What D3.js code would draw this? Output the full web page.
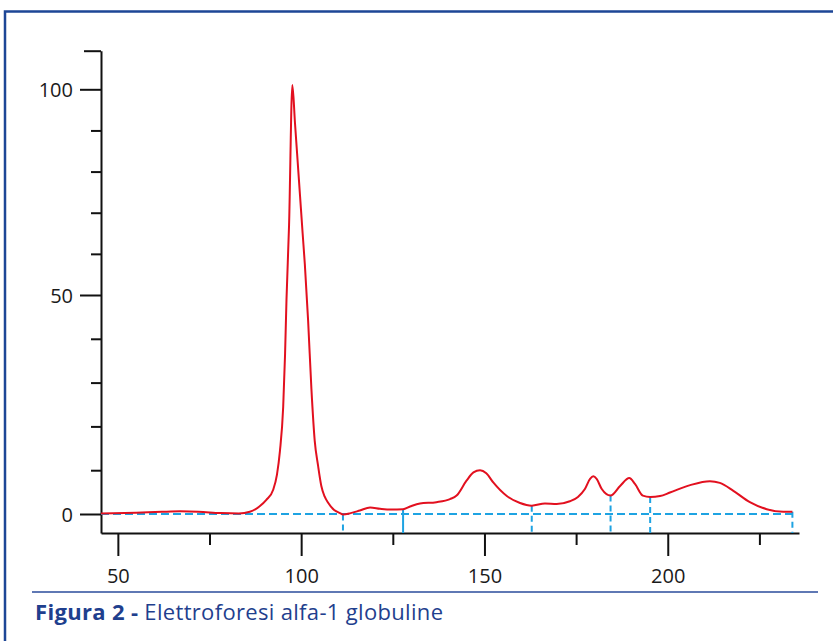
<!DOCTYPE html>
<html>
<head>
<meta charset="utf-8">
<script src="https://cdn.jsdelivr.net/npm/d3@7"></script>
<style>
  html, body { margin: 0; padding: 0; background: #fff; }
  svg { display: block; }
</style>
</head>
<body>
<svg id="chart" width="833" height="641"></svg>
<script>
// ---- data ----
const positions = [45.4, 55, 62, 67, 72, 78, 83, 86, 88.6, 90.5, 92.4, 93.4, 94.2, 95.1, 95.6, 96.0, 96.7, 97.6, 98.3, 99.0, 99.7, 100.4, 101.0, 101.9, 102.8, 103.7, 104.6, 105.5, 106.4, 107.4, 109, 110.6, 111.4, 113.5, 116.0, 118.8, 121.5, 124.5, 127.8, 129.7, 132.4, 136.9, 140.6, 142.4, 145.1, 147, 148.8, 150.5, 152.4, 156.1, 159.7, 162.9, 166.5, 169.7, 173.3, 175.5, 177.4, 178.8, 179.7, 180.6, 182.0, 184.4, 187.0, 189.5, 191.1, 193.2, 195.2, 197.9, 200.6, 206.1, 211.5, 214.2, 217.9, 222.4, 227.0, 231.5, 234.0];
const intensity = [0.1, 0.3, 0.5, 0.6, 0.5, 0.2, 0.1, 0.5, 1.7, 3.2, 5.6, 9, 14.3, 24.5, 36.3, 49, 67, 101, 92, 83, 74, 65, 57.5, 44.1, 28.5, 16.7, 11.1, 6.4, 4.0, 2.5, 0.9, 0.2, -0.1, 0.2, 0.8, 1.5, 1.2, 1.0, 1.1, 1.7, 2.4, 2.7, 3.4, 4.2, 7.6, 9.5, 10.0, 9.3, 7.2, 4.1, 2.5, 1.9, 2.4, 2.3, 2.9, 3.9, 5.7, 8.0, 8.6, 8.0, 5.7, 4.2, 6.4, 8.2, 6.8, 4.2, 3.9, 4.1, 4.9, 6.6, 7.5, 7.1, 5.3, 2.7, 1.1, 0.5, 0.5];
const dividers = [111.4, 127.8, 162.9, 184.4, 195.2, 234.0];
const solidDivider = [false, true, false, false, false, false];
const xMajorTicks = [50, 100, 150, 200];
const xMinorTicks = [75, 125, 175, 225];
const yMajorTicks = [0, 50, 100];
const yMinorTicks = [10, 20, 30, 40, 60, 70, 80, 90];
const xDomain = [45.4, 235.8];
const yBreaks = [-4.47, 0, 50, 100, 109.1];
const captionBold = "Figura 2 - ";
const captionText = "Elettroforesi alfa-1 globuline";

// ---- drawing ----
const svg = d3.select("#chart");
const x = d3.scaleLinear().domain(xDomain).range([101, 799]);
const y = d3.scaleLinear().domain(yBreaks).range([533, 514, 295, 89.3, 50.7]);
const yMin = yBreaks[0], yMax = yBreaks[yBreaks.length - 1];

// frame
svg.append("rect").attr("x", 5).attr("y", 11.5).attr("width", 860).attr("height", 660)
  .attr("fill", "none").attr("stroke", "#1d4696").attr("stroke-width", 2.5);

const axisColor = "#111";
const font = "'Open Sans', 'Liberation Sans', sans-serif";

function styleAxis(g) {
  g.selectAll("path, line").attr("stroke", axisColor).attr("stroke-width", 2);
  g.selectAll("text").attr("fill", "#1a1a1a").style("font-family", font).style("font-size", "20px");
}

// y minor
svg.append("g").attr("transform", "translate(101,0)")
  .call(d3.axisLeft(y).tickValues(yMinorTicks).tickSize(10).tickSizeOuter(0).tickFormat(""))
  .call(styleAxis);
// y cap
svg.append("g").attr("transform", "translate(101,0)")
  .call(d3.axisLeft(y).tickValues([yMax]).tickSize(17).tickSizeOuter(0).tickFormat(""))
  .call(g => g.select(".domain").remove())
  .call(styleAxis);
// y major
const yMaj = svg.append("g").attr("transform", "translate(101,0)")
  .call(d3.axisLeft(y).tickValues(yMajorTicks).tickSize(21).tickSizeOuter(0).tickPadding(7))
  .call(g => g.select(".domain").remove())
  .call(styleAxis);
yMaj.selectAll("text").attr("dy", "0.36em");

// x minor
svg.append("g").attr("transform", "translate(0,533)")
  .call(d3.axisBottom(x).tickValues(xMinorTicks).tickSize(12).tickSizeOuter(0).tickFormat(""))
  .call(styleAxis);
// x major
const xMaj = svg.append("g").attr("transform", "translate(0,533)")
  .call(d3.axisBottom(x).tickValues(xMajorTicks).tickSize(23).tickSizeOuter(0))
  .call(g => g.select(".domain").remove())
  .call(styleAxis);
xMaj.selectAll("text").attr("y", 50).attr("dy", "0");

// baseline dashed
const blue = "#1ea3e2";
svg.append("line")
  .attr("x1", x(xDomain[0])).attr("x2", x(dividers[dividers.length - 1]))
  .attr("y1", y(0)).attr("y2", y(0))
  .attr("stroke", blue).attr("stroke-width", 2).attr("stroke-dasharray", "8,4");

// dividers
const lookup = new Map(positions.map((p, i) => [p, intensity[i]]));
svg.append("g").selectAll("line").data(dividers).join("line")
  .attr("x1", d => x(d)).attr("x2", d => x(d))
  .attr("y1", d => y(lookup.get(d))).attr("y2", y(yMin))
  .attr("stroke", blue).attr("stroke-width", 2)
  .attr("stroke-dasharray", (d, i) => solidDivider[i] ? null : "6,4");

// curve
const pts = positions.map((p, i) => [p, intensity[i]]);
svg.append("path").datum(pts)
  .attr("d", d3.line().x(d => x(d[0])).y(d => y(d[1])).curve(d3.curveMonotoneX))
  .attr("fill", "none").attr("stroke", "#e2101f").attr("stroke-width", 2).attr("stroke-linejoin", "round");

// caption rule
svg.append("line").attr("x1", 32).attr("x2", 818).attr("y1", 592).attr("y2", 592)
  .attr("stroke", "#2a4b9b").attr("stroke-width", 1.5);

const cap = svg.append("text").attr("x", 35).attr("y", 620)
  .attr("fill", "#1f3f8e").style("font-family", "'Open Sans', Lato, sans-serif").style("font-size", "22px")
  .attr("textLength", 408).attr("lengthAdjust", "spacing");
cap.append("tspan").attr("font-weight", "bold").text(captionBold);
cap.append("tspan").text(captionText);
</script>
</body>
</html>
